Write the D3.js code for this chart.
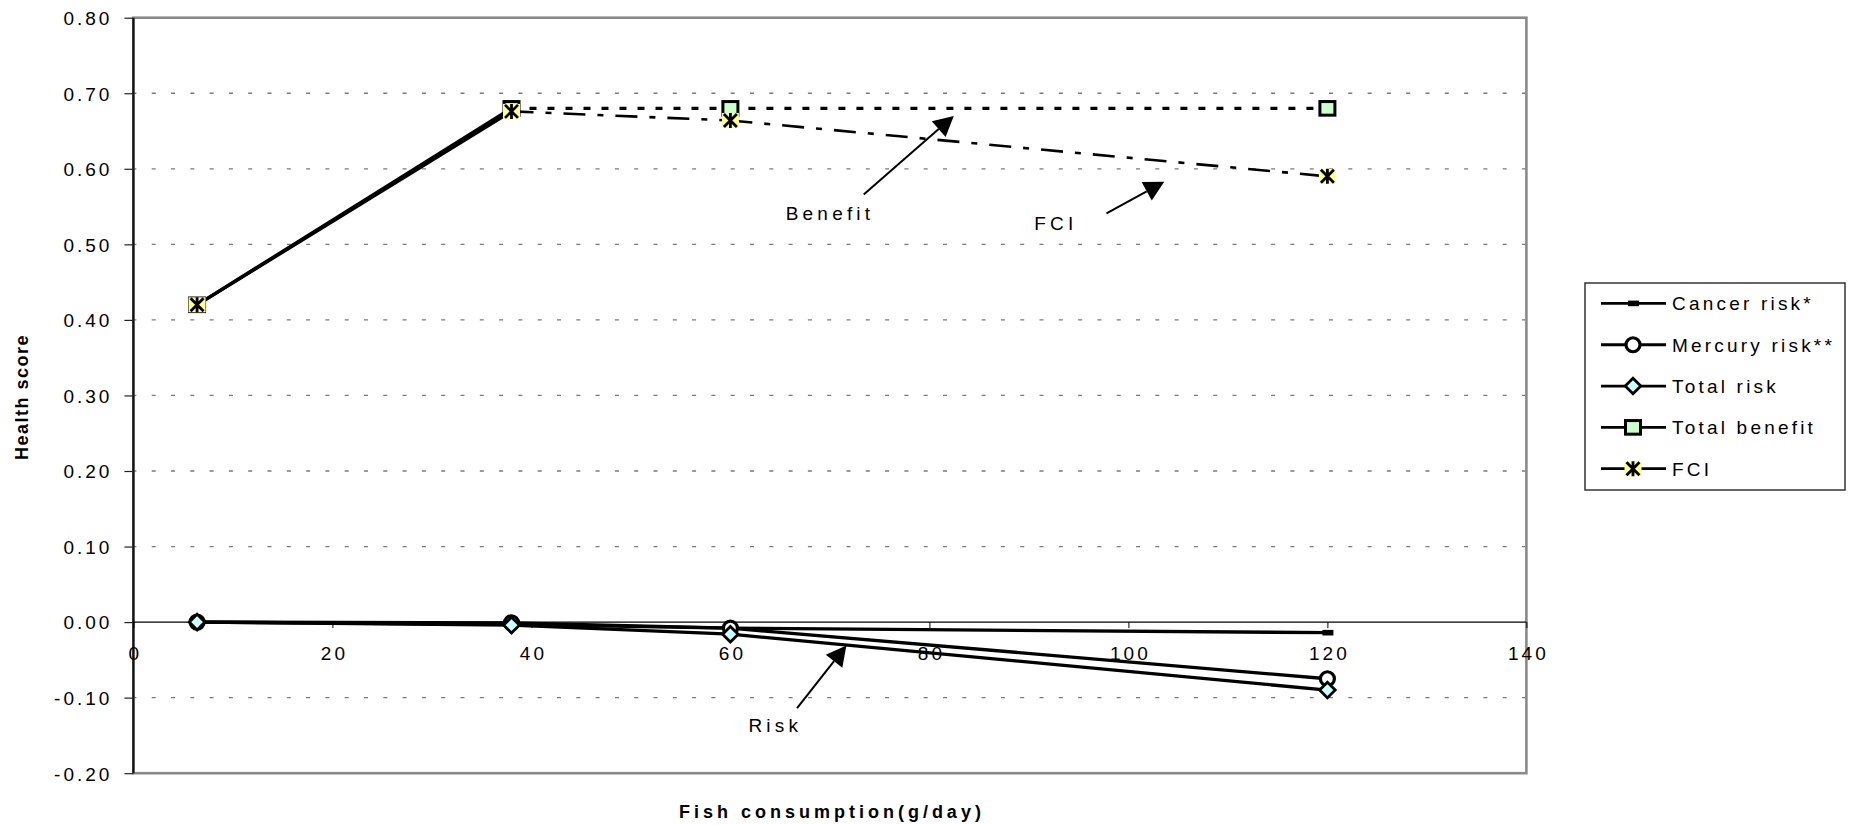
<!DOCTYPE html>
<html>
<head>
<meta charset="utf-8">
<script src="https://cdn.jsdelivr.net/npm/d3@7"></script>
<style>
  html, body { margin: 0; padding: 0; background: #ffffff; }
  svg text { font-family: "Liberation Sans", Arial, Helvetica, sans-serif; fill: #000; }
</style>
</head>
<body>
<svg id="chart" width="1851" height="825"></svg>
<script>
// ---- data -------------------------------------------------------------
const consumption  = [6.4, 38, 60, 120];           // g/day
const cancerRisk   = [0.000, -0.003, -0.008, -0.014];
const mercuryRisk  = [0.000, -0.001, -0.008, -0.075];
const totalRisk    = [0.000, -0.004, -0.016, -0.090];
const totalBenefit = [0.420, 0.680, 0.680, 0.680];
const fciScore     = [0.420, 0.676, 0.664, 0.590];

const seriesNames = ["Cancer risk*", "Mercury risk**", "Total risk", "Total benefit", "FCI"];

const xTicks      = [0, 20, 40, 60, 80, 100, 120, 140];
const xTickLabels = ["0", "20", "40", "60", "80", "100", "120", "140"];
const yTicks      = [-0.2, -0.1, 0, 0.1, 0.2, 0.3, 0.4, 0.5, 0.6, 0.7, 0.8];
const yTickLabels = ["-0.20", "-0.10", "0.00", "0.10", "0.20", "0.30", "0.40", "0.50", "0.60", "0.70", "0.80"];

const xTitle = "Fish consumption(g/day)";
const yTitle = "Health score";

// callout labels, anchored in data units
const callouts = [
  { text: "Benefit", tx: 69.8, ty: 0.541,  x1: 73.4,  y1: 0.566,  x2: 82.45, y2: 0.670 },
  { text: "FCI",     tx: 92.5, ty: 0.528,  x1: 97.8,  y1: 0.541,  x2: 103.6, y2: 0.583 },
  { text: "Risk",    tx: 64.3, ty: -0.136, x1: 66.7,  y1: -0.114, x2: 71.66, y2: -0.031 }
];

// ---- layout -----------------------------------------------------------
const plot = { left: 133.4, right: 1526.4, top: 17.7, bottom: 773.2 };
const svg = d3.select("#chart");

const x = d3.scaleLinear().domain([0, 140]).range([plot.left, plot.right]);
const y = d3.scaleLinear().domain([-0.2, 0.8]).range([plot.bottom, plot.top]);

const DASH  = "7,11";
const DDOT  = "22,12,6,12";

const series = [
  { name: seriesNames[0], values: cancerRisk,   marker: "dash",    segs: ["solid", "solid", "solid"] },
  { name: seriesNames[1], values: mercuryRisk,  marker: "circle",  segs: ["solid", "solid", "solid"] },
  { name: seriesNames[2], values: totalRisk,    marker: "diamond", segs: ["solid", "solid", "solid"] },
  { name: seriesNames[3], values: totalBenefit, marker: "square",  segs: ["solid", "dash", "dash"] },
  { name: seriesNames[4], values: fciScore,     marker: "star",    segs: ["solid", "dashdot", "dashdot"] }
];

// ---- gridlines --------------------------------------------------------
svg.append("g")
  .selectAll("line")
  .data(yTicks.filter(v => v !== 0 && v !== 0.8))
  .join("line")
  .attr("x1", plot.left).attr("x2", plot.right)
  .attr("y1", d => y(d)).attr("y2", d => y(d))
  .attr("stroke", "#7a7a7a")
  .attr("stroke-width", 1.3)
  .attr("stroke-dasharray", "4,15.3")
  .attr("stroke-dashoffset", 1);

// plot frame
svg.append("rect")
  .attr("x", plot.left).attr("y", plot.top)
  .attr("width", plot.right - plot.left).attr("height", plot.bottom - plot.top)
  .attr("fill", "none").attr("stroke", "#8a8a8a").attr("stroke-width", 2.6);

// ---- axes -------------------------------------------------------------
const yAxis = d3.axisLeft(y).tickValues(yTicks).tickFormat((d, i) => yTickLabels[i]).tickSize(9).tickPadding(0);
const gy = svg.append("g").attr("transform", `translate(${plot.left},0)`).call(yAxis);
gy.select(".domain").attr("stroke", "#111").attr("stroke-width", 2.2).attr("d", `M0,${plot.top}V${plot.bottom}`);
gy.selectAll(".tick line").attr("stroke", "#222").attr("stroke-width", 1.2);
gy.selectAll(".tick text")
  .attr("x", -21)
  .attr("dy", "0.36em")
  .style("font-size", "19px")
  .style("letter-spacing", "3px")
  .attr("fill", "#000")
  .attr("text-anchor", "end");

const xAxis = d3.axisBottom(x).tickValues(xTicks).tickFormat((d, i) => xTickLabels[i]).tickSize(6).tickPadding(0);
const gx = svg.append("g").attr("transform", `translate(0,${y(0)})`).call(xAxis);
gx.select(".domain").attr("stroke", "#000").attr("stroke-width", 1.2).attr("d", `M${plot.left},0H${plot.right}`);
gx.selectAll(".tick line").attr("stroke", "#000").attr("stroke-width", 1);
gx.selectAll(".tick text")
  .attr("y", 31)
  .attr("dy", "0.36em")
  .attr("dx", 1.5)
  .style("font-size", "19px")
  .style("letter-spacing", "3px")
  .attr("fill", "#000");

// ---- series lines -----------------------------------------------------
const linesG = svg.append("g");
series.forEach(s => {
  for (let i = 0; i < s.values.length - 1; i++) {
    const style = s.segs[i];
    const seg = linesG.append("line")
      .attr("x1", x(consumption[i])).attr("y1", y(s.values[i]))
      .attr("x2", x(consumption[i + 1])).attr("y2", y(s.values[i + 1]))
      .attr("stroke", "#000")
      .attr("stroke-width", style === "dashdot" ? 2.6 : 3.3);
    if (style === "dash") seg.attr("stroke-dasharray", DASH);
    if (style === "dashdot") seg.attr("stroke-dasharray", DDOT);
  }
});

// ---- markers ----------------------------------------------------------
function drawMarker(g, type, cx, cy) {
  const m = g.append("g").attr("transform", `translate(${cx},${cy})`);
  if (type === "dash") {
    m.append("rect").attr("x", -5).attr("y", -2.8).attr("width", 11).attr("height", 5.6).attr("fill", "#000");
  } else if (type === "circle") {
    m.append("circle").attr("r", 7).attr("fill", "#fff").attr("stroke", "#000").attr("stroke-width", 3.2);
  } else if (type === "diamond") {
    m.append("path").attr("d", "M0,-7.8L7.8,0L0,7.8L-7.8,0Z")
      .attr("fill", "#ccffff").attr("stroke", "#000").attr("stroke-width", 2.8);
  } else if (type === "square") {
    m.append("rect").attr("x", -7.5).attr("y", -6.8).attr("width", 15).attr("height", 13.6)
      .attr("fill", "#ccffcc").attr("stroke", "#000").attr("stroke-width", 3);
  } else if (type === "star") {
    m.append("rect").attr("x", -8.5).attr("y", -7.5).attr("width", 17).attr("height", 15).attr("fill", "#ffff99");
    m.append("path").attr("d", "M-6.5,-6.5L6.5,6.5M-6.5,6.5L6.5,-6.5M0,-7.5V7.5")
      .attr("stroke", "#000").attr("stroke-width", 2.8).attr("fill", "none");
  }
  return m;
}

const markersG = svg.append("g");
series.forEach(s => {
  s.values.forEach((v, i) => drawMarker(markersG, s.marker, x(consumption[i]), y(v)));
});

// ---- callouts ---------------------------------------------------------
const calloutG = svg.append("g");
callouts.forEach(c => {
  const ax = x(c.x1), ay = y(c.y1), bx = x(c.x2), by = y(c.y2);
  const ang = Math.atan2(by - ay, bx - ax);
  const headLen = 20, headHalf = 10.5;
  const baseX = bx - headLen * Math.cos(ang), baseY = by - headLen * Math.sin(ang);
  calloutG.append("line")
    .attr("x1", ax).attr("y1", ay).attr("x2", baseX).attr("y2", baseY)
    .attr("stroke", "#000").attr("stroke-width", 2);
  const px = -Math.sin(ang) * headHalf, py = Math.cos(ang) * headHalf;
  calloutG.append("path")
    .attr("d", `M${bx},${by}L${baseX + px},${baseY + py}L${baseX - px},${baseY - py}Z`)
    .attr("fill", "#000");
  calloutG.append("text")
    .attr("x", x(c.tx) + 2.1).attr("y", y(c.ty))
    .attr("dy", "0.36em")
    .attr("text-anchor", "middle")
    .style("font-size", "19px")
    .style("letter-spacing", "4.2px")
    .text(c.text);
});

// ---- axis titles ------------------------------------------------------
svg.append("text")
  .attr("x", (plot.left + plot.right) / 2 + 2)
  .attr("y", 812).attr("dy", "0.36em")
  .attr("text-anchor", "middle")
  .style("font-size", "18px").style("font-weight", "bold").style("letter-spacing", "4px")
  .text(xTitle);

svg.append("text")
  .attr("transform", "translate(22,397) rotate(-90)")
  .attr("dy", "0.36em")
  .attr("text-anchor", "middle")
  .style("font-size", "18px").style("font-weight", "bold").style("letter-spacing", "1.5px")
  .text(yTitle);

// ---- legend -----------------------------------------------------------
const legend = svg.append("g");
legend.append("rect")
  .attr("x", 1585).attr("y", 283).attr("width", 260).attr("height", 207)
  .attr("fill", "#fff").attr("stroke", "#333").attr("stroke-width", 1.5);
const rowY = d3.scalePoint().domain(seriesNames).range([303.4, 468.7]);
series.forEach(s => {
  const ry = rowY(s.name);
  legend.append("line").attr("x1", 1601).attr("x2", 1666).attr("y1", ry).attr("y2", ry)
    .attr("stroke", "#000").attr("stroke-width", 2.8);
  drawMarker(legend, s.marker, 1633, ry);
  legend.append("text")
    .attr("x", 1672).attr("y", ry).attr("dy", "0.36em")
    .style("font-size", "19px").style("letter-spacing", "3.2px")
    .text(s.name);
});
</script>
</body>
</html>
